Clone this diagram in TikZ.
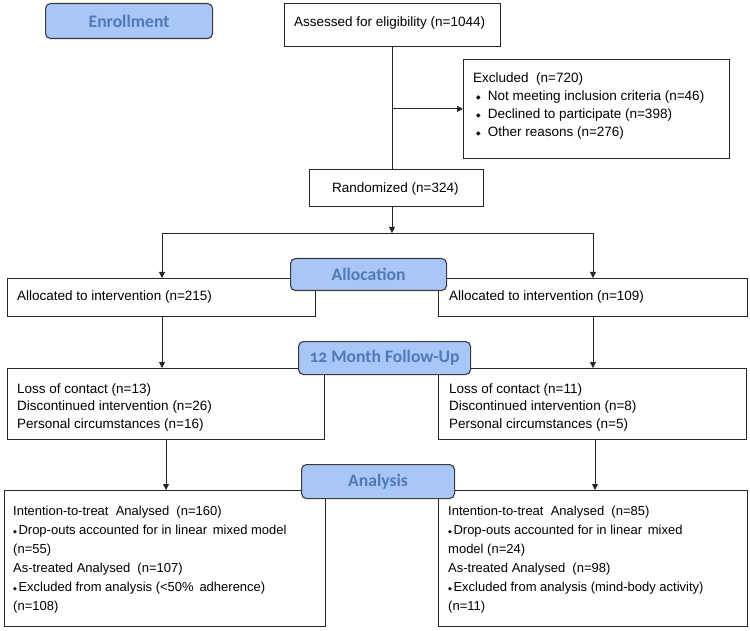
\documentclass[tikz,border=0pt]{standalone}
\usepackage{fontspec}
\setmainfont{Liberation Sans}
\newfontfamily\lblfont[Numbers=OldStyle]{Carlito}
\newfontfamily\symfont{DejaVu Sans}
\usetikzlibrary{arrows.meta}
\definecolor{lblfill}{RGB}{168,198,248}
\definecolor{lbltext}{RGB}{80,122,182}
\definecolor{lbldraw}{RGB}{58,58,58}
\newcommand\dmdA{\hspace*{3pt}{\symfont\fontsize{6}{6}\selectfont\raisebox{0.3ex}{◆}}\hspace{7pt}}
\newcommand\dmdB{{\symfont\fontsize{5}{5}\selectfont\raisebox{0.35ex}{◆}}\hspace{1.5pt}}
\tikzset{
  box/.style={draw=black!85, line width=0.8pt, fill=white, inner sep=0pt, anchor=north west},
  lbl/.style={draw=lbldraw, line width=1.1pt, fill=lblfill, rounded corners=5pt, inner sep=0pt,
    anchor=north west, text=lbltext, font=\lblfont\bfseries\fontsize{17.6}{17.6}\selectfont},
  txt/.style={anchor=north west, inner sep=0pt, align=left, font=\fontsize{13.5}{18}\selectfont},
  line/.style={draw=black!85, line width=0.8pt},
  arr/.style={line, -{Triangle[length=6pt,width=6pt]}}
}
\begin{document}
\begin{tikzpicture}[x=1pt,y=-1pt]
\useasboundingbox (0,0) rectangle (750,631);
% boxes
\node[box, minimum width=216pt, minimum height=43pt] (assess) at (284,3) {};
\node[box, minimum width=266pt, minimum height=99pt] (excl) at (463,59) {};
\node[box, minimum width=174pt, minimum height=37pt] (random) at (309,169) {};
\node[box, minimum width=308pt, minimum height=38pt] (allocL) at (7,278) {};
\node[box, minimum width=309pt, minimum height=38pt] (allocR) at (438,278) {};
\node[box, minimum width=317pt, minimum height=71pt] (lossL) at (7,368) {};
\node[box, minimum width=308pt, minimum height=71pt] (lossR) at (438,368) {};
\node[box, minimum width=321pt, minimum height=136pt] (anaL) at (4,490) {};
\node[box, minimum width=309pt, minimum height=136pt] (anaR) at (438,490) {};
% texts
\node[txt] (tassess) at (294,16.3) {Assessed for eligibility (n=1044)};
\node[txt] (texcl) at (473,72.3) {Excluded\ \ (n=720)\\
\dmdA Not meeting inclusion criteria (n=46)\\
\dmdA Declined to participate (n=398)\\
\dmdA Other reasons (n=276)};
\node[txt] (trandom) at (332,182.3) {Randomized (n=324)};
\node[txt] (tallocL) at (17,290.3) {Allocated to intervention (n=215)};
\node[txt] (tallocR) at (449,290.3) {Allocated to intervention (n=109)};
\node[txt, font=\fontsize{13.5}{17.5}\selectfont] (tlossL) at (17,383.3) {Loss of contact (n=13)\\
Discontinued intervention (n=26)\\
Personal circumstances (n=16)};
\node[txt, font=\fontsize{13.5}{17.5}\selectfont] (tlossR) at (449,383.3) {Loss of contact (n=11)\\
Discontinued intervention (n=8)\\
Personal circumstances (n=5)};
\node[txt, font=\fontsize{13}{19}\selectfont] (tanaL) at (13,505.5) {Intention-to-treat\ \ Analysed\ \ (n=160)\\
\dmdB Drop-outs accounted for in linear\ \,mixed model\\
(n=55)\\
As-treated Analysed\ \ (n=107)\\
\dmdB Excluded from analysis (<50\%\ \,adherence)\\
(n=108)};
\node[txt, font=\fontsize{13}{19}\selectfont] (tanaR) at (448,505.5) {Intention-to-treat\ \ Analysed\ \ (n=85)\\
\dmdB Drop-outs accounted for in linear\ \,mixed\\
model (n=24)\\
As-treated Analysed\ \ (n=98)\\
\dmdB Excluded from analysis (mind-body activity)\\
(n=11)};
% stage labels
\node[lbl, minimum width=167pt, minimum height=35pt] (enroll) at (45,3) {Enrollment};
\node[lbl, minimum width=156pt, minimum height=32pt] (alloc) at (290,258) {Allocation};
\node[lbl, minimum width=172pt, minimum height=33pt] (follow) at (298,341) {12 Month Follow-Up};
\node[lbl, minimum width=153pt, minimum height=34pt] (analysis) at (301,464) {Analysis};
% connectors
\coordinate (split) at (392,233);
\coordinate (bl) at (162,233);
\coordinate (br) at (593,233);
\coordinate (vl) at (166,439);
\coordinate (vr) at (595,439);
\draw[line] (assess.south -| split) -- (random.north -| split);
\draw[arr] (split |- excl.west) -- (excl.west);
\draw[arr] (random.south -| split) -- (split);
\draw[line] (bl) -- (br);
\draw[arr] (bl) -- (allocL.north -| bl);
\draw[arr] (br) -- (allocR.north -| br);
\draw[arr] (allocL.south -| bl) -- (lossL.north -| bl);
\draw[arr] (allocR.south -| br) -- (lossR.north -| br);
\draw[arr] (lossL.south -| vl) -- (anaL.north -| vl);
\draw[arr] (lossR.south -| vr) -- (anaR.north -| vr);
\end{tikzpicture}
\end{document}
